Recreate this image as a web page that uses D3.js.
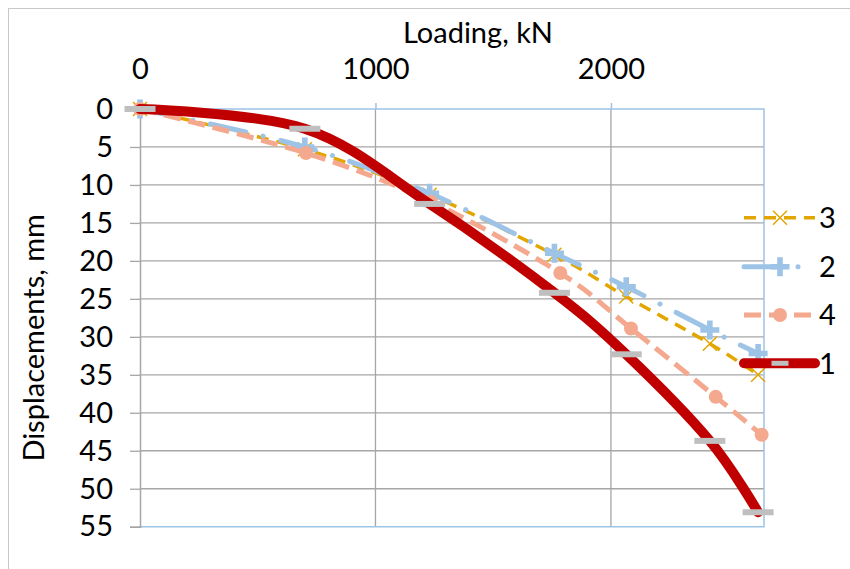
<!DOCTYPE html>
<html><head><meta charset="utf-8">
<script src="https://cdn.jsdelivr.net/npm/d3@7"></script>
<style>body{margin:0;background:#fff} text{font-family:Lato, "Open Sans", sans-serif; fill:#000}</style>
</head><body><svg id="c" width="850" height="569"></svg>
<script>
// ---- data ----
const loads = [0, 700, 1230, 1760, 2065, 2420, 2625];
const loads4 = [0, 705, 1235, 1785, 2085, 2445, 2640];
const s3 = [0, 5.3, 11.3, 19.2, 24.7, 30.9, 35.0];
const s2 = [0, 5.0, 11.1, 19.0, 23.4, 29.1, 32.2];
const s4 = [0, 5.8, 12.2, 21.6, 28.9, 37.9, 42.9];
const s1 = [0, 2.6, 12.5, 24.2, 32.3, 43.7, 53.1];
const xTicks = [0, 1000, 2000];
const yTicks = [0, 5, 10, 15, 20, 25, 30, 35, 40, 45, 50, 55];
const seriesNames = ["3", "2", "4", "1"];
const xTitle = "Loading, kN";
const yTitle = "Displacements, mm";

const svg = d3.select("#c");
const x = d3.scaleLinear().domain([0, 2650]).range([140, 764]);
const y = d3.scaleLinear().domain([0, 55]).range([109, 526.7]);
const FS = 29;
const gridC = "#A6A6A6", borderC = "#9DC3E6";

// chart border
svg.append("rect").attr("x", 8.5).attr("y", 8.5).attr("width", 860).attr("height", 580)
  .attr("fill", "none").attr("stroke", "#C8C8C8").attr("stroke-width", 1);

// gridlines
svg.append("g").selectAll("line").data(yTicks.filter(d => d > 0 && d < 55)).join("line")
  .attr("x1", x(0)).attr("x2", x(2650)).attr("y1", d => y(d)).attr("y2", d => y(d))
  .attr("stroke", gridC).attr("stroke-width", 1.3);
svg.append("g").selectAll("line").data(xTicks.filter(d => d > 0)).join("line")
  .attr("x1", d => x(d)).attr("x2", d => x(d)).attr("y1", y(0)).attr("y2", y(55))
  .attr("stroke", gridC).attr("stroke-width", 1.3);

// plot border (top/right/bottom)
svg.append("path").attr("d", `M${x(0)},${y(0)}H${x(2650)}V${y(55)}H${x(0)}`)
  .attr("fill", "none").attr("stroke", borderC).attr("stroke-width", 1.5);

// left axis
const ya = svg.append("g").attr("transform", `translate(${x(0)},0)`)
  .call(d3.axisLeft(y).tickValues(yTicks).tickSize(10).tickPadding(17).tickFormat(d3.format("d")));
ya.select(".domain").attr("stroke", gridC).attr("stroke-width", 1.5);
ya.selectAll(".tick line").attr("stroke", gridC).attr("stroke-width", 1.3);
ya.selectAll(".tick text").attr("font-size", FS).attr("font-family", "Lato").attr("fill", "#000");

// top axis
const xa = svg.append("g").attr("transform", `translate(0,${y(0)})`)
  .call(d3.axisTop(x).tickValues(xTicks).tickSize(6).tickPadding(24).tickFormat(d3.format("d")));
xa.select(".domain").remove();
xa.selectAll(".tick line").attr("stroke", borderC).attr("stroke-width", 1.5);
xa.selectAll(".tick text").attr("font-size", FS).attr("font-family", "Lato").attr("fill", "#000");

// titles
svg.append("text").attr("x", 478).attr("y", 43).attr("text-anchor", "middle")
  .attr("font-size", FS).text(xTitle);
svg.append("text").attr("transform", `translate(44,${(y(0) + y(55)) / 2 + 20}) rotate(-90)`)
  .attr("text-anchor", "middle").attr("font-size", FS).text(yTitle);

// series styles
const styles = {
  "3": {color: "#E3A600", width: 3.5, dash: "12 8", cap: "butt", marker: "x"},
  "2": {color: "#9DC3E6", width: 5, dash: "36 18 0.01 18", cap: "round", marker: "plus"},
  "4": {color: "#F4A88E", width: 5, dash: "17 8", cap: "butt", marker: "circle"},
  "1": {color: "#C00000", width: 10, dash: null, cap: "round", marker: "dash"}
};
const data = {
  "3": loads.map((l, i) => [l, s3[i]]),
  "2": loads.map((l, i) => [l, s2[i]]),
  "4": loads4.map((l, i) => [l, s4[i]]),
  "1": loads.map((l, i) => [l, s1[i]])
};

function drawMarker(g, type, cx, cy, small) {
  if (type === "x") {
    const r = 7;
    g.append("path").attr("d", `M${cx - r},${cy - r}L${cx + r},${cy + r}M${cx - r},${cy + r}L${cx + r},${cy - r}`)
      .attr("stroke", styles["3"].color).attr("stroke-width", 1.5).attr("fill", "none");
  } else if (type === "plus") {
    const a = 9.5, t = 2.8;
    g.append("path").attr("d",
      `M${cx - t},${cy - a}H${cx + t}V${cy - t}H${cx + a}V${cy + t}H${cx + t}V${cy + a}H${cx - t}V${cy + t}H${cx - a}V${cy - t}H${cx - t}Z`)
      .attr("fill", styles["2"].color);
  } else if (type === "circle") {
    g.append("circle").attr("cx", cx).attr("cy", cy).attr("r", 7).attr("fill", styles["4"].color);
  } else if (type === "dash") {
    const w = small ? 17 : 31, h = small ? 5 : 6;
    g.append("rect").attr("x", cx - w / 2).attr("y", cy - h / 2).attr("width", w).attr("height", h)
      .attr("fill", "#BFBFBF");
  }
}

const line = d3.line().x(d => x(d[0])).y(d => y(d[1])).curve(d3.curveCardinal.tension(0));
seriesNames.forEach(name => {
  const st = styles[name];
  const g = svg.append("g");
  g.append("path").datum(data[name]).attr("d", line)
    .attr("fill", "none").attr("stroke", st.color).attr("stroke-width", st.width)
    .attr("stroke-dasharray", st.dash).attr("stroke-linecap", st.cap).attr("stroke-linejoin", "round");
  data[name].forEach(d => drawMarker(g, st.marker, x(d[0]), y(d[1]), false));
});

// legend
const legY = [217.7, 266.7, 315, 363.3];
seriesNames.forEach((name, i) => {
  const st = styles[name];
  const g = svg.append("g");
  const ly = legY[i];
  g.append("line").attr("x1", 744).attr("x2", 815).attr("y1", ly).attr("y2", ly)
    .attr("stroke", st.color).attr("stroke-width", st.width)
    .attr("stroke-dasharray", st.dash).attr("stroke-linecap", st.cap);
  drawMarker(g, st.marker, 780, ly, true);
  g.append("text").attr("x", 819).attr("y", ly).attr("dy", "0.36em").attr("font-size", FS).text(name);
});
</script></body></html>
